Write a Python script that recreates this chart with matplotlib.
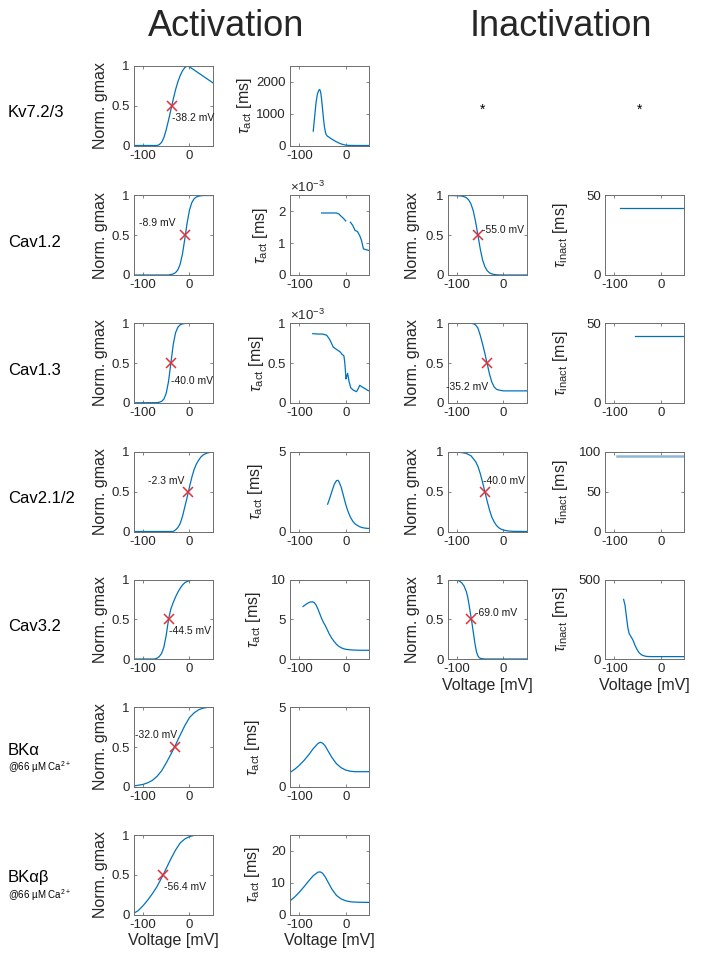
import numpy as np
import matplotlib
matplotlib.use("Agg")
import matplotlib.pyplot as plt

plt.rcParams['font.family'] = ['Liberation Sans', 'DejaVu Sans']
plt.rcParams['axes.unicode_minus'] = False
plt.rcParams['mathtext.fontset'] = 'custom'
plt.rcParams['mathtext.rm'] = 'Liberation Sans'
plt.rcParams['mathtext.it'] = 'Liberation Sans:italic'

NAN = np.nan

# ---------------- data ----------------
channels = ["Kv7.2/3", "Cav1.2", "Cav1.3", "Cav2.1/2", "Cav3.2", "BKα", "BKαβ"]
subtitles = [None, None, None, None, None, "@66 µM Ca$^{2+}$", "@66 µM Ca$^{2+}$"]

act_vhalf = [-38.2, -8.9, -40.0, -2.3, -44.5, -32.0, -56.4]
inact_vhalf = [None, -55.0, -35.2, -40.0, -69.0, None, None]

# activation (normalised gmax)
kv7_act_v = [-120, -70, -65, -60, -55, -50, -45, -40, -35, -30, -25, -20, -15, -10, -5, 0, 10, 20, 30, 40, 50]
kv7_act_g = [0, 0, 0.01, 0.04, 0.1, 0.2, 0.32, 0.45, 0.58, 0.7, 0.8, 0.88, 0.94, 0.98, 1.0, 0.99, 0.95, 0.91, 0.87, 0.83, 0.79]
cav12_act_v = [-120, -45, -40, -35, -30, -25, -20, -15, -10, -5, 0, 5, 10, 15, 20, 25, 30, 50]
cav12_act_g = [0, 0, 0.006, 0.013, 0.03, 0.064, 0.136, 0.266, 0.455, 0.657, 0.815, 0.91, 0.959, 0.982, 0.992, 0.997, 1.0, 1.0]
cav13_act_v = [-120, -70, -65, -60, -55, -50, -45, -40, -35, -30, -25, -20, -15, -10, 0, 50]
cav13_act_g = [0, 0.002, 0.007, 0.018, 0.047, 0.12, 0.27, 0.5, 0.73, 0.88, 0.95, 0.982, 0.993, 0.998, 1.0, 1.0]
cav2_act_v = [-120, -35, -30, -25, -20, -15, -10, -5, 0, 5, 10, 15, 20, 25, 30, 35, 40, 45, 50]
cav2_act_g = [0, 0, 0.02, 0.05, 0.1, 0.19, 0.31, 0.43, 0.56, 0.68, 0.78, 0.85, 0.9, 0.94, 0.965, 0.98, 0.99, 0.997, 1.0]
cav32_act_v = [-120, -75, -70, -65, -60, -55, -50, -45, -40, -35, -30, -25, -20, -15, -10, -5, 0, 10, 20, 50]
cav32_act_g = [0, 0, 0.01, 0.03, 0.07, 0.15, 0.3, 0.5, 0.63, 0.71, 0.78, 0.84, 0.89, 0.93, 0.96, 0.975, 0.985, 0.995, 1.0, 1.0]
bka_act_v = [-120, -110, -100, -90, -80, -70, -60, -50, -40, -32, -25, -20, -10, 0, 10, 20, 30, 40, 50]
bka_act_g = [0.01, 0.02, 0.03, 0.05, 0.08, 0.13, 0.2, 0.3, 0.41, 0.5, 0.59, 0.65, 0.77, 0.87, 0.93, 0.97, 0.99, 1.0, 1.0]
bkab_act_v = [-120, -110, -100, -90, -80, -70, -60, -56.4, -50, -40, -30, -20, -10, 0, 10, 20, 50]
bkab_act_g = [0.015, 0.05, 0.11, 0.18, 0.26, 0.35, 0.46, 0.5, 0.58, 0.7, 0.81, 0.9, 0.95, 0.98, 0.995, 1.0, 1.0]

# activation time constants (ms; Cav1.x in units of 1e-3 ms)
kv7_tau_v = [-70, -67, -64, -61, -58, -56, -54, -52, -50, -48, -46, -44, -42, -40, -35, -30, -25, -20, -15, -10, -5, 0, 5, 10, 20, 50]
kv7_tau_t = [450, 900, 1350, 1620, 1740, 1760, 1680, 1450, 1150, 850, 600, 430, 340, 300, 250, 200, 155, 115, 80, 50, 28, 12, 5, 2, 0, 0]
cav12_tau_v = [-52, -40, -30, -20, -15, -10, -5, 0, NAN, 10, 15, 20, 25, 30, 34, 38, 43, 50]
cav12_tau_t = [1.95, 1.95, 1.95, 1.95, 1.92, 1.85, 1.78, 1.7, NAN, 1.66, 1.56, 1.4, 1.37, 1.24, 1.08, 0.82, 0.8, 0.77]
cav13_tau_v = [-71, -60, -50, -41, -35, -30, -27, -22, -17, -12, -8, -4, -2, 0.5, 2, 4, 7, 10.6, 16, 23, 27, 30, 35, 41, 46, 50]
cav13_tau_t = [0.87, 0.865, 0.865, 0.85, 0.8, 0.74, 0.7, 0.68, 0.66, 0.64, 0.61, 0.59, 0.5, 0.3, 0.33, 0.37, 0.27, 0.19, 0.16, 0.14, 0.18, 0.22, 0.2, 0.18, 0.16, 0.15]
cav2_tau_v = [-39, -35, -30, -25, -20, -17, -15, -10, -5, 0, 5, 10, 15, 20, 25, 30, 35, 40, 45, 50]
cav2_tau_t = [1.72, 2.05, 2.5, 2.95, 3.2, 3.22, 3.15, 2.8, 2.25, 1.7, 1.25, 0.9, 0.65, 0.48, 0.38, 0.3, 0.25, 0.22, 0.2, 0.19]
cav32_tau_v = [-92, -85, -78, -72, -68, -64, -60, -56, -52, -48, -44, -40, -35, -30, -25, -20, -15, -10, -5, 0, 10, 20, 30, 50]
cav32_tau_t = [6.6, 6.9, 7.15, 7.2, 7.1, 6.8, 6.3, 5.7, 5.1, 4.6, 4.2, 3.7, 3.1, 2.6, 2.2, 1.85, 1.6, 1.42, 1.3, 1.22, 1.15, 1.12, 1.1, 1.1]
bka_tau_v = [-120, -110, -100, -90, -80, -70, -60, -55, -50, -45, -40, -30, -20, -10, 0, 10, 20, 30, 50]
bka_tau_t = [0.9, 1.1, 1.35, 1.65, 2.0, 2.4, 2.72, 2.8, 2.75, 2.6, 2.35, 1.85, 1.45, 1.2, 1.05, 0.98, 0.95, 0.95, 0.95]
bkab_tau_v = [-120, -110, -100, -90, -80, -70, -60, -55, -50, -45, -40, -30, -20, -10, 0, 10, 20, 30, 50]
bkab_tau_t = [4.3, 5.5, 7.0, 8.7, 10.5, 12.2, 13.3, 13.4, 13.0, 12.0, 10.7, 8.0, 6.0, 4.9, 4.3, 4.0, 3.9, 3.85, 3.8]

# inactivation (normalised gmax)
cav12_inact_v = [-120, -100, -90, -85, -80, -75, -70, -65, -60, -55, -50, -45, -40, -35, -30, -25, -20, -15, -10, 0, 50]
cav12_inact_g = [1.0, 0.998, 0.993, 0.986, 0.973, 0.946, 0.895, 0.807, 0.67, 0.5, 0.33, 0.19, 0.105, 0.054, 0.027, 0.013, 0.007, 0.003, 0.001, 0, 0]
cav13_inact_v = [-120, -70, -65, -60, -55, -50, -45, -40, -35, -30, -25, -20, -15, -10, -5, 0, 50]
cav13_inact_g = [1, 1, 0.995, 0.98, 0.94, 0.85, 0.74, 0.62, 0.49, 0.36, 0.26, 0.2, 0.17, 0.16, 0.155, 0.15, 0.15]
cav2_inact_v = [-120, -110, -100, -90, -80, -70, -60, -55, -50, -45, -40, -35, -30, -25, -20, -15, -10, -5, 0, 10, 20, 50]
cav2_inact_g = [1.0, 0.999, 0.997, 0.993, 0.982, 0.953, 0.88, 0.82, 0.73, 0.62, 0.5, 0.38, 0.27, 0.18, 0.12, 0.076, 0.047, 0.029, 0.018, 0.007, 0.002, 0]
cav32_inact_v = [-120, -110, -100, -95, -90, -85, -80, -77, -74, -71, -69, -67, -64, -61, -58, -55, -52, -48, -40, 50]
cav32_inact_g = [1, 0.998, 0.99, 0.98, 0.96, 0.92, 0.85, 0.78, 0.68, 0.57, 0.5, 0.42, 0.3, 0.18, 0.09, 0.04, 0.015, 0.005, 0, 0]

# inactivation time constants (ms)
cav12_itau_v = [-88, 50]
cav12_itau_t = [42, 42]
cav13_itau_v = [-55, 50]
cav13_itau_t = [42, 42]
cav2_itau_v = [-95, 50]
cav2_itau_t = [95, 95]
cav32_itau_v = [-80, -77, -74, -71, -68, -64, -60, -56, -52, -48, -44, -40, -35, -30, -20, 50]
cav32_itau_t = [375, 340, 270, 200, 160, 140, 120, 90, 65, 45, 32, 24, 19, 16, 15, 15]

act_curves = [(kv7_act_v, kv7_act_g), (cav12_act_v, cav12_act_g), (cav13_act_v, cav13_act_g),
              (cav2_act_v, cav2_act_g), (cav32_act_v, cav32_act_g), (bka_act_v, bka_act_g),
              (bkab_act_v, bkab_act_g)]
tau_curves = [(kv7_tau_v, kv7_tau_t), (cav12_tau_v, cav12_tau_t), (cav13_tau_v, cav13_tau_t),
              (cav2_tau_v, cav2_tau_t), (cav32_tau_v, cav32_tau_t), (bka_tau_v, bka_tau_t),
              (bkab_tau_v, bkab_tau_t)]
inact_curves = [None, (cav12_inact_v, cav12_inact_g), (cav13_inact_v, cav13_inact_g),
                (cav2_inact_v, cav2_inact_g), (cav32_inact_v, cav32_inact_g), None, None]
itau_curves = [None, (cav12_itau_v, cav12_itau_t), (cav13_itau_v, cav13_itau_t),
               (cav2_itau_v, cav2_itau_t), (cav32_itau_v, cav32_itau_t), None, None]

tau_ylim = [2500, 2.5, 1.0, 5, 10, 5, 25]
tau_yticks = [[0, 1000, 2000], [0, 1, 2], [0, 0.5, 1], [0, 5], [0, 5, 10], [0, 5], [0, 10, 20]]
tau_offset = [False, True, True, False, False, False, False]
itau_ylim = [None, 50, 50, 100, 500, None, None]
itau_yticks = [None, [0, 50], [0, 50], [0, 50, 100], [0, 500], None, None]

# annotation placement (x, y, ha) for the half-activation labels
act_note = [(-38.2, 0.35, 'left'), (-30, 0.65, 'right'), (-40, 0.27, 'left'), (-12, 0.63, 'right'),
            (-43, 0.35, 'left'), (-27, 0.65, 'right'), (-54, 0.34, 'left')]
inact_note = [None, (-46, 0.57, 'left'), (-33, 0.2, 'right'), (-43, 0.64, 'left'), (-61, 0.58, 'left'), None, None]

# ---------------- layout ----------------
W, H = 701, 967
BLUE = "#0072BD"
RED = "#E0303A"
TXT = "#262626"
EDGE = "#6e6e6e"
COL_X = [133.7, 290, 447.7, 605]
ROW_TOP = [66, 195.5, 323.3, 452, 579.5, 707.3, 835]
AW, AH = 79, 79.5
TAU_LX = [-0.45, -0.25, -0.3, -0.32, -0.34, -0.35, -0.35]

fig = plt.figure(figsize=(W / 100, H / 100), dpi=100)


def add_ax(r, c):
    return fig.add_axes([COL_X[c] / W, 1 - (ROW_TOP[r] + AH) / H, AW / W, AH / H])


def style(ax, ylim, yticks, ylabel, lx, xlabel=False):
    ax.set_xlim(-120, 50)
    ax.set_xticks([-100, 0])
    ax.set_xticklabels(["-100", "0"])
    ax.set_ylim(0, ylim)
    ax.set_yticks(yticks)
    ax.set_yticklabels([f"{t:g}" for t in yticks])
    ax.tick_params(direction="in", top=True, right=True, length=2.5, width=0.6,
                   color=EDGE, labelcolor=TXT, labelsize=9.5, pad=3)
    for s in ax.spines.values():
        s.set_color(EDGE)
        s.set_linewidth(0.7)
    ax.set_ylabel(ylabel, fontsize=11.5, color=TXT)
    ax.yaxis.set_label_coords(lx, 0.5)
    if xlabel:
        ax.set_xlabel("Voltage [mV]", fontsize=11.5, color=TXT, labelpad=2)


last_act = len(channels) - 1
last_inact = 4

for r, name in enumerate(channels):
    # activation curve
    ax = add_ax(r, 0)
    v, g = act_curves[r]
    ax.plot(v, g, color=BLUE, lw=0.9)
    ax.plot(act_vhalf[r], 0.5, "x", color=RED, ms=7, mew=1.1)
    nx, ny, ha = act_note[r]
    ax.text(nx, ny, f"{act_vhalf[r]:.1f} mV", fontsize=7.5, ha=ha, va="center", color="#1a1a1a")
    style(ax, 1, [0, 0.5, 1], "Norm. gmax", -0.32, r == last_act)

    # activation time constant
    ax = add_ax(r, 1)
    v, t = tau_curves[r]
    ax.plot(v, t, color=BLUE, lw=0.9)
    style(ax, tau_ylim[r], tau_yticks[r], r"$\tau_{\rm act}$ [ms]", TAU_LX[r], r == last_act)
    if tau_offset[r]:
        ax.text(0.0, 1.0, r"$\times10^{-3}$", transform=ax.transAxes, fontsize=9.5,
                color=TXT, ha="left", va="bottom")

    if inact_curves[r] is not None:
        ax = add_ax(r, 2)
        v, g = inact_curves[r]
        ax.plot(v, g, color=BLUE, lw=0.9)
        ax.plot(inact_vhalf[r], 0.5, "x", color=RED, ms=7, mew=1.1)
        nx, ny, ha = inact_note[r]
        ax.text(nx, ny, f"{inact_vhalf[r]:.1f} mV", fontsize=7.5, ha=ha, va="center", color="#1a1a1a")
        style(ax, 1, [0, 0.5, 1], "Norm. gmax", -0.35, r == last_inact)

        ax = add_ax(r, 3)
        v, t = itau_curves[r]
        if r == 3:
            ax.plot(v, t, color="#8fb6d6", lw=1.8)
        else:
            ax.plot(v, t, color=BLUE, lw=0.9)
        style(ax, itau_ylim[r], itau_yticks[r], r"$\tau_{\rm inact}$ [ms]", -0.44, r == last_inact)

    # row label
    yc = ROW_TOP[r] + AH / 2
    if subtitles[r] is None:
        fig.text(8 / W, 1 - (yc + 7) / H, name, fontsize=12, color="black", ha="left", va="center")
    else:
        fig.text(8 / W, 1 - (yc + 3) / H, name, fontsize=12, color="black", ha="left", va="center")
        fig.text(8 / W, 1 - (yc + 20) / H, subtitles[r], fontsize=7, color="black", ha="left", va="center")

# no inactivation for Kv7.2/3
for x in (483, 640):
    fig.text(x / W, 1 - 110 / H, "*", fontsize=10, ha="center", va="center", color="black")

fig.text(226 / W, 1 - 26 / H, "Activation", fontsize=26, color=TXT, ha="center", va="center")
fig.text(561 / W, 1 - 26 / H, "Inactivation", fontsize=26, color=TXT, ha="center", va="center")

fig.savefig("out.png", dpi=100)
